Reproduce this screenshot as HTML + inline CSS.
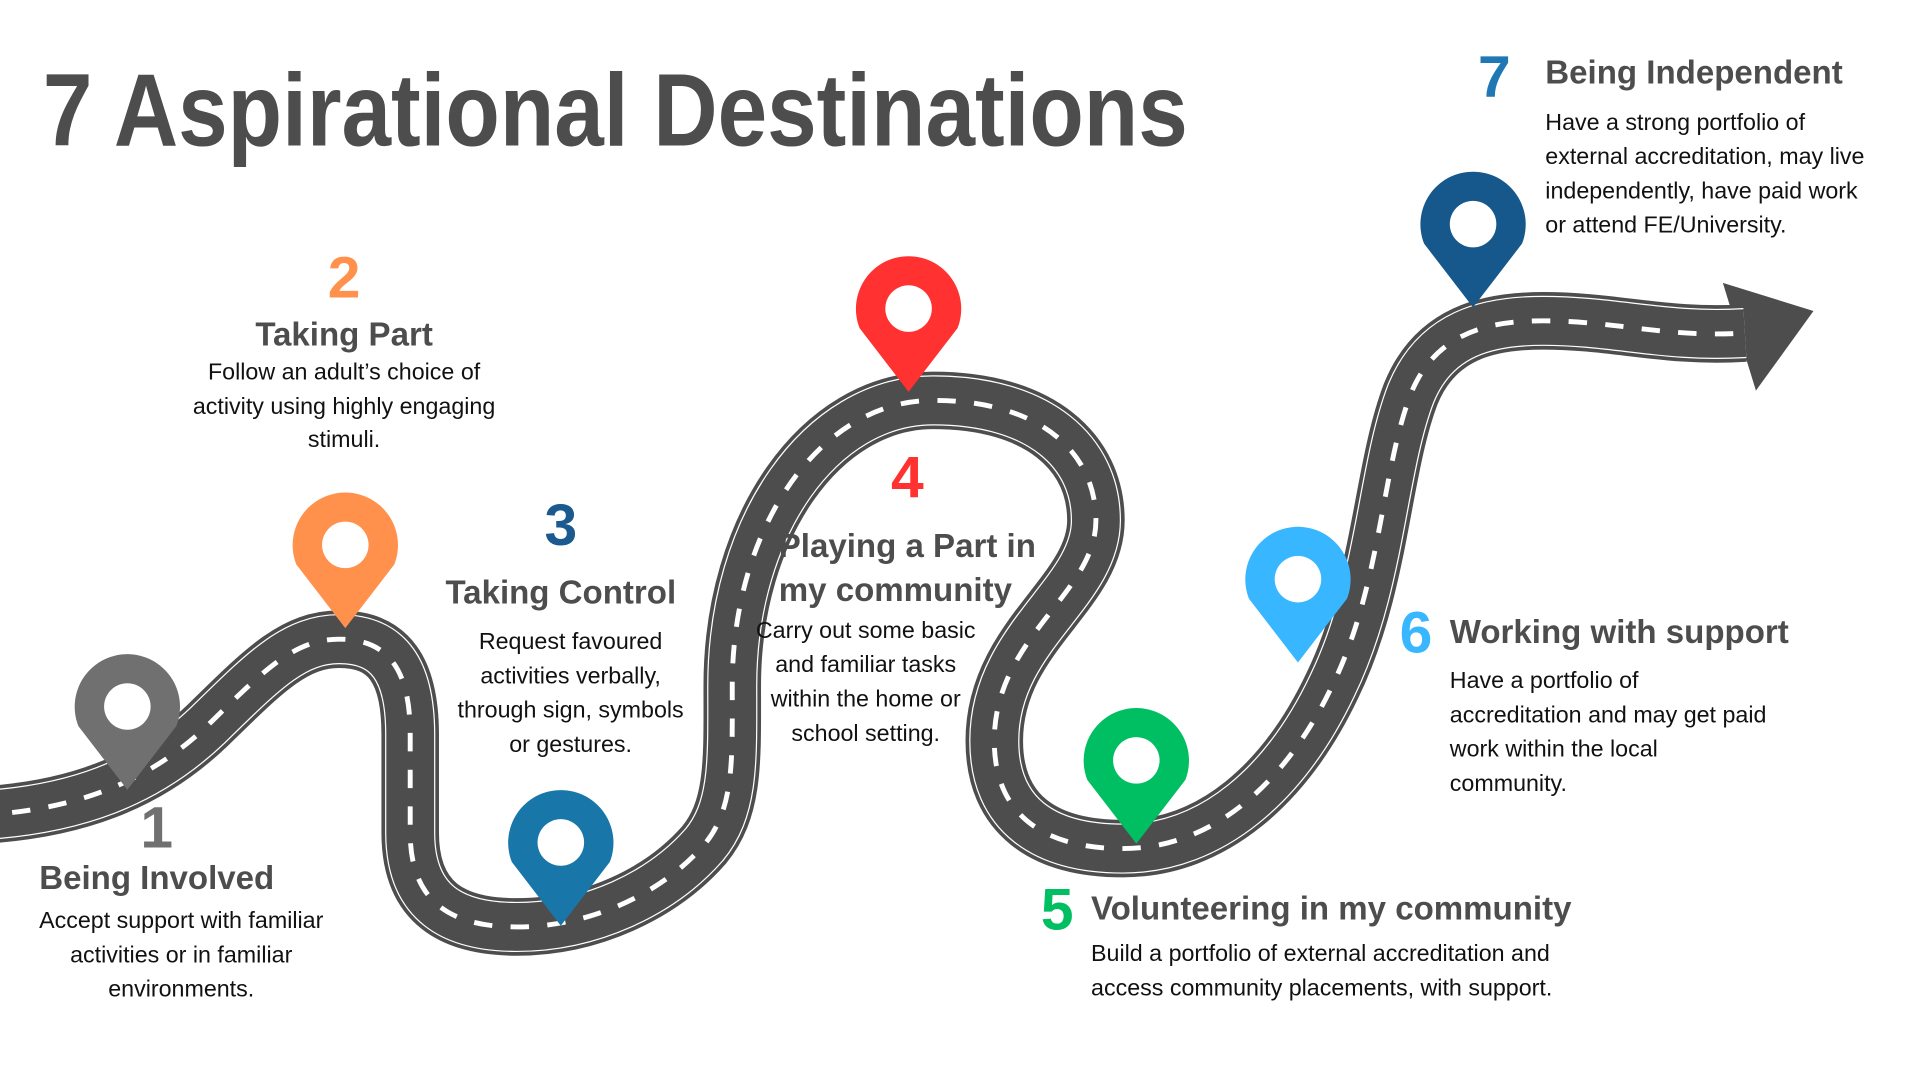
<!DOCTYPE html>
<html><head><meta charset="utf-8"><style>
html,body{margin:0;padding:0;background:#fff;width:1920px;height:1080px;overflow:hidden}
svg{display:block}
text{font-family:"Liberation Sans",sans-serif}
.h{font-weight:bold;font-size:27px;fill:#4d4d4d}
.n{font-weight:bold;font-size:48px}
.b{font-size:19px;fill:#111}
</style></head><body>
<svg width="1920" height="1080" viewBox="0 0 1568 882" xmlns="http://www.w3.org/2000/svg">
<defs>
<path id="road" d="M -20 666 C 60 662, 120 640, 170 592 C 215 548, 240 522, 277 522 C 318 522, 335 548, 335 600 L 335 680 C 335 738, 370 757, 422 757 C 482 757, 540 730, 575 690 C 600 660, 598 620, 598 560 C 598 430, 670 327, 762 327 C 850 327, 895 370, 895 425 C 895 485, 812 520, 812 605 C 812 665, 852 693, 917 693 C 990 693, 1050 640, 1088 560 C 1128 478, 1128 385, 1152 322 C 1172 272, 1215 262, 1260 262 C 1320 262, 1360 276, 1425 272"/>
</defs>
<text x="35" y="119" font-weight="bold" font-size="84" fill="#4d4d4d" textLength="935" lengthAdjust="spacingAndGlyphs">7 Aspirational Destinations</text>

<polygon points="1407,231 1481,254 1434,319" fill="#4d4d4d"/>
<use href="#road" fill="none" stroke="#4d4d4d" stroke-width="47"/>
<use href="#road" fill="none" stroke="#fff" stroke-width="41"/>
<use href="#road" fill="none" stroke="#4d4d4d" stroke-width="39"/>
<use href="#road" fill="none" stroke="#fff" stroke-width="4" stroke-dasharray="15 15"/>

<g>
<g transform="translate(104,577)"><path d="M -40 16 A 43 43 0 1 1 40 16 L 0 68 Z" fill="#707070"/><circle r="19" fill="#fff"/></g>
<g transform="translate(282,445)"><path d="M -40 16 A 43 43 0 1 1 40 16 L 0 68 Z" fill="#ff914d"/><circle r="19" fill="#fff"/></g>
<g transform="translate(458,688)"><path d="M -40 16 A 43 43 0 1 1 40 16 L 0 68 Z" fill="#1877a8"/><circle r="19" fill="#fff"/></g>
<g transform="translate(742,252)"><path d="M -40 16 A 43 43 0 1 1 40 16 L 0 68 Z" fill="#ff3131"/><circle r="19" fill="#fff"/></g>
<g transform="translate(928,621)"><path d="M -40 16 A 43 43 0 1 1 40 16 L 0 68 Z" fill="#00bf63"/><circle r="19" fill="#fff"/></g>
<g transform="translate(1060,473)"><path d="M -40 16 A 43 43 0 1 1 40 16 L 0 68 Z" fill="#38b6ff"/><circle r="19" fill="#fff"/></g>
<g transform="translate(1203,183)"><path d="M -40 16 A 43 43 0 1 1 40 16 L 0 68 Z" fill="#16588c"/><circle r="19" fill="#fff"/></g>
</g>

<g text-anchor="middle">
<text class="n" x="281" y="243" fill="#ff914d">2</text>
<text class="h" x="281" y="282">Taking Part</text>
<text class="b" x="281" y="310">Follow an adult’s choice of</text>
<text class="b" x="281" y="338">activity using highly engaging</text>
<text class="b" x="281" y="365">stimuli.</text>

<text class="n" x="458" y="445" fill="#1b5a8f">3</text>
<text class="h" x="458" y="493">Taking Control</text>
<text class="b" x="466" y="530">Request favoured</text>
<text class="b" x="466" y="558">activities verbally,</text>
<text class="b" x="466" y="586">through sign, symbols</text>
<text class="b" x="466" y="614">or gestures.</text>

<text class="n" x="741" y="406" fill="#ff3131">4</text>
<text class="b" x="707" y="521">Carry out some basic</text>
<text class="b" x="707" y="549">and familiar tasks</text>
<text class="b" x="707" y="577">within the home or</text>
<text class="b" x="707" y="605">school setting.</text>

<text class="n" x="128" y="692" fill="#707070">1</text>
<text class="h" x="128" y="726">Being Involved</text>
<text class="b" x="148" y="758">Accept support with familiar</text>
<text class="b" x="148" y="786">activities or in familiar</text>
<text class="b" x="148" y="814">environments.</text>
</g>

<text class="h" x="636" y="455">Playing a Part in</text>
<text class="h" x="636" y="491">my community</text>

<text class="n" x="850" y="759" fill="#00bf63">5</text>
<text class="h" x="891" y="751">Volunteering in my community</text>
<text class="b" x="891" y="785">Build a portfolio of external accreditation and</text>
<text class="b" x="891" y="813">access community placements, with support.</text>

<text class="n" x="1143" y="533" fill="#38b6ff">6</text>
<text class="h" x="1184" y="525">Working with support</text>
<text class="b" x="1184" y="562">Have a portfolio of</text>
<text class="b" x="1184" y="590">accreditation and may get paid</text>
<text class="b" x="1184" y="618">work within the local</text>
<text class="b" x="1184" y="646">community.</text>

<text class="n" x="1207" y="79" fill="#1f77b4">7</text>
<text class="h" x="1262" y="68">Being Independent</text>
<text class="b" x="1262" y="106">Have a strong portfolio of</text>
<text class="b" x="1262" y="134">external accreditation, may live</text>
<text class="b" x="1262" y="162">independently, have paid work</text>
<text class="b" x="1262" y="190">or attend FE/University.</text>
</svg>
</body></html>
